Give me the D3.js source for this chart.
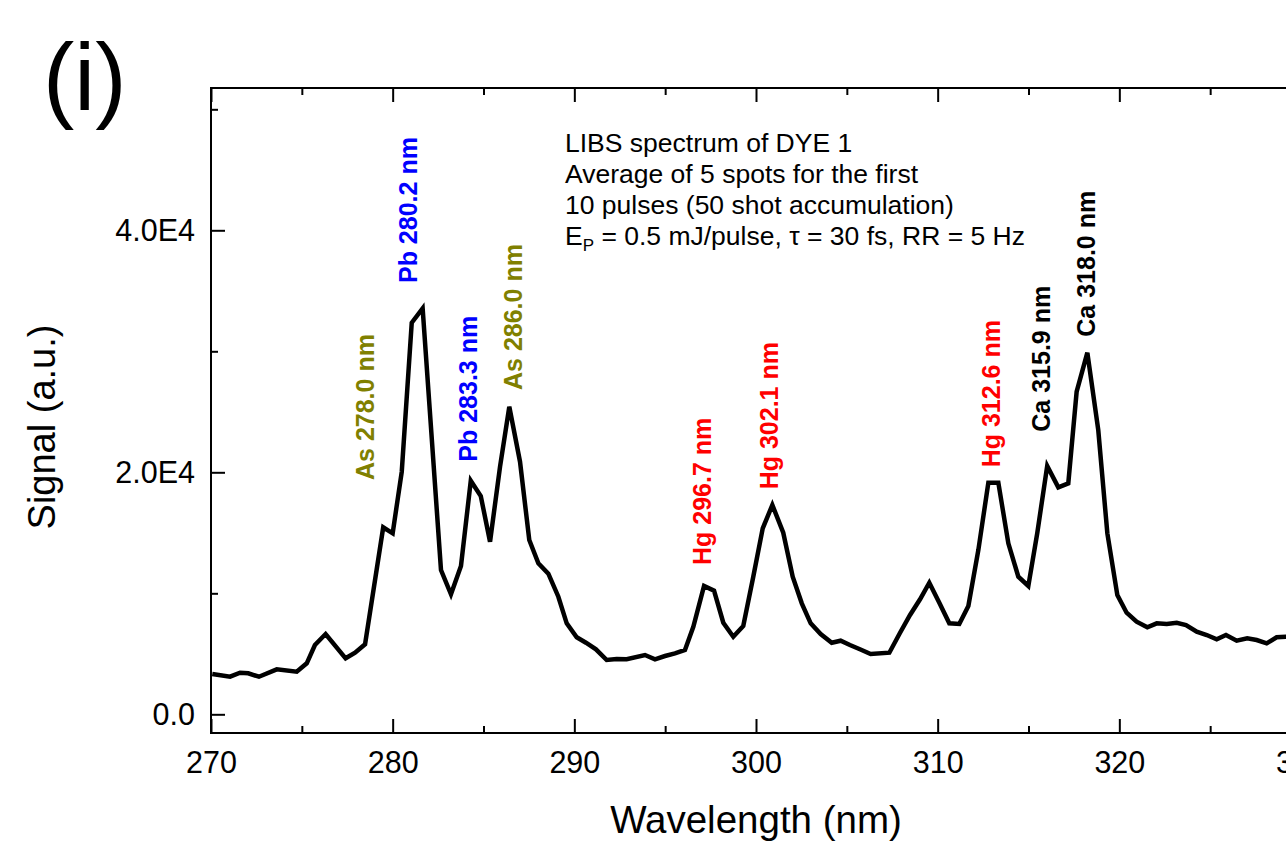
<!DOCTYPE html>
<html>
<head>
<meta charset="utf-8">
<script src="https://cdn.jsdelivr.net/npm/d3@7"></script>
<style>
  body { margin: 0; background: #fff; }
  svg { display: block; font-family: "Liberation Sans", Arial, sans-serif; }
</style>
</head>
<body>
<script>
// Spectrum (wavelength in nm, signal in a.u.)
let wavelength = [
  270.07, 271.05, 271.6, 272.05, 272.64, 273.62, 274.72, 275.27, 275.72, 276.31,
  277.41, 277.93, 278.48, 279.48, 280.0, 280.5, 281.05, 281.65, 282.66, 283.21,
  283.76, 284.3, 284.85, 285.36, 285.91, 286.42, 287.01, 287.52, 288.02, 288.57,
  289.12, 289.58, 290.13, 290.64, 291.19, 291.78, 292.33, 292.88, 293.89, 294.44,
  294.99, 295.54, 296.09, 296.55, 297.14, 297.69, 298.2, 298.75, 299.3, 299.85,
  300.37, 300.9, 301.5, 302.02, 302.52, 303.01, 303.56, 304.17, 304.66, 305.17,
  305.72, 306.31, 307.34, 307.93, 308.48, 309.03, 309.54, 310.09, 310.64, 311.19,
  311.69, 312.24, 312.79, 313.34, 313.89, 314.44, 314.99, 315.48, 316.03, 316.64,
  317.19, 317.65, 318.24, 318.84, 319.34, 319.89, 320.4, 320.95, 321.54, 322.06,
  322.61, 323.16, 323.67, 324.26, 324.81, 325.36, 325.87, 326.46, 327.04, 327.56,
  328.11, 328.66, 329.17, 329.72
];
let signal = [
  3330, 3107, 3438, 3388, 3107, 3719, 3520, 4215, 5727, 6636,
  4628, 5091, 5785, 15454, 14958, 20049, 32362, 33552, 11925, 9917,
  12256, 19305, 18040, 14264, 20462, 25420, 20875, 14404, 12479, 11619,
  9719, 7520, 6363, 5917, 5372, 4487, 4570, 4545, 4901, 4545,
  4818, 5041, 5314, 7239, 10603, 10214, 7570, 6413, 7297, 11371,
  15371, 17297, 15007, 11371, 9173, 7520, 6636, 5917, 6082, 5727,
  5372, 4983, 5091, 6743, 8206, 9504, 10876, 9223, 7520, 7462,
  8950, 13578, 19140, 19140, 14131, 11371, 10603, 14958, 20520, 18759,
  19090, 26660, 29883, 23495, 14958, 9859, 8396, 7653, 7190, 7520,
  7462, 7570, 7380, 6826, 6553, 6198, 6553, 6082, 6281, 6140,
  5867, 6363, 6413, 6450
];

// Peak labels: text, element colour, anchor (wavelength, signal at text start)
let peakLabels = ["As 278.0 nm", "Pb 280.2 nm", "Pb 283.3 nm", "As 286.0 nm",
                  "Hg 296.7 nm", "Hg 302.1 nm", "Hg 312.6 nm", "Ca 315.9 nm", "Ca 318.0 nm"];
let peakColors = ["#808000", "#0000ff", "#0000ff", "#808000",
                  "#ff0000", "#ff0000", "#ff0000", "#000000", "#000000"];
let peakAnchorX = [278.45, 280.84, 284.16, 286.61, 297.01, 300.71, 312.93, 315.69, 318.16];
let peakAnchorY = [19363, 35643, 20875, 26800, 12338, 18594, 20412, 23354, 31205];

// Axis ticks
let xMajor = [270, 280, 290, 300, 310, 320, 330];
let xMinor = [275, 285, 295, 305, 315, 325];
let yMajor = [0, 20000, 40000];
let yMinor = [10000, 30000, 50000];

let svgWidth = 1286;
let svgHeight = 849;
let plot = { left: 211, top: 88, right: 1301, bottom: 733 };

let svg = d3.select("body")
            .append("svg")
            .attr("width", svgWidth)
            .attr("height", svgHeight);

let xScale = d3.scaleLinear().domain([270, 330]).range([plot.left, plot.right]);
let yScale = d3.scaleLinear().domain([-1545, 51760]).range([plot.bottom, plot.top]);

let yFormat = d => d === 0 ? "0.0" : (d / 1e4).toFixed(1) + "E4";

// helper to draw one set of ticks
function addAxis(axis, tx, ty) {
    let g = svg.append("g")
               .attr("transform", `translate(${tx}, ${ty})`)
               .call(axis);
    g.select(".domain").remove();
    g.selectAll("line").attr("stroke", "#000").attr("stroke-width", 2);
    g.selectAll("text")
     .attr("font-family", "Liberation Sans, Arial, sans-serif")
     .attr("font-size", 30.5)
     .attr("fill", "#000");
    g.attr("font-family", null).attr("font-size", null);
    return g;
}

// bottom
addAxis(d3.axisBottom(xScale).tickValues(xMajor).tickSize(-14).tickSizeOuter(0)
          .tickPadding(18).tickFormat(d3.format("d")), 0, plot.bottom);
addAxis(d3.axisBottom(xScale).tickValues(xMinor).tickSize(-7).tickSizeOuter(0)
          .tickFormat(""), 0, plot.bottom);
// top
addAxis(d3.axisTop(xScale).tickValues(xMajor).tickSize(-14).tickSizeOuter(0)
          .tickFormat(""), 0, plot.top);
addAxis(d3.axisTop(xScale).tickValues(xMinor).tickSize(-7).tickSizeOuter(0)
          .tickFormat(""), 0, plot.top);
// left
addAxis(d3.axisLeft(yScale).tickValues(yMajor).tickSize(-14).tickSizeOuter(0)
          .tickPadding(16).tickFormat(yFormat), plot.left, 0);
addAxis(d3.axisLeft(yScale).tickValues(yMinor).tickSize(-7).tickSizeOuter(0)
          .tickFormat(""), plot.left, 0);
// right
addAxis(d3.axisRight(yScale).tickValues(yMajor).tickSize(-14).tickSizeOuter(0)
          .tickFormat(""), plot.right, 0);
addAxis(d3.axisRight(yScale).tickValues(yMinor).tickSize(-7).tickSizeOuter(0)
          .tickFormat(""), plot.right, 0);

// frame
svg.append("rect")
   .attr("x", plot.left)
   .attr("y", plot.top)
   .attr("width", plot.right - plot.left)
   .attr("height", plot.bottom - plot.top)
   .attr("fill", "none")
   .attr("stroke", "#000")
   .attr("stroke-width", 2);

// spectrum line
let points = d3.zip(wavelength, signal);
let line = d3.line()
             .x(d => xScale(d[0]))
             .y(d => yScale(d[1]));
svg.append("path")
   .datum(points)
   .attr("d", line)
   .attr("fill", "none")
   .attr("stroke", "#000")
   .attr("stroke-width", 4.5)
   .attr("stroke-linejoin", "miter");

// peak labels (rotated)
peakLabels.forEach((t, i) => {
    let px = xScale(peakAnchorX[i]);
    let py = yScale(peakAnchorY[i]);
    svg.append("text")
       .attr("transform", `translate(${px}, ${py}) rotate(-90)`)
       .attr("dy", "0.36em")
       .attr("font-size", 25)
       .attr("font-weight", "bold")
       .attr("fill", peakColors[i])
       .text(t);
});

// info block
let info = svg.append("text")
              .attr("font-size", 26.5)
              .attr("fill", "#000");
info.append("tspan").attr("x", 565).attr("y", 152).text("LIBS spectrum of DYE 1");
info.append("tspan").attr("x", 565).attr("y", 183).text("Average of 5 spots for the first");
info.append("tspan").attr("x", 565).attr("y", 214).text("10 pulses (50 shot accumulation)");
let last = info.append("tspan").attr("x", 565).attr("y", 245);
last.append("tspan").text("E");
last.append("tspan").attr("font-size", 17).attr("dy", 6).text("P");
last.append("tspan").attr("dy", -6).text(" = 0.5 mJ/pulse, \u03C4 = 30 fs, RR = 5 Hz");

// axis titles
svg.append("text")
   .attr("x", 756)
   .attr("y", 833)
   .attr("text-anchor", "middle")
   .attr("font-size", 38.5)
   .text("Wavelength (nm)");
svg.append("text")
   .attr("transform", "translate(55, 427) rotate(-90)")
   .attr("text-anchor", "middle")
   .attr("font-size", 38)
   .text("Signal (a.u.)");

// panel letter
svg.append("text")
   .attr("x", 43)
   .attr("y", 110)
   .attr("font-size", 94)
   .text("(i)");
</script>
</body>
</html>
